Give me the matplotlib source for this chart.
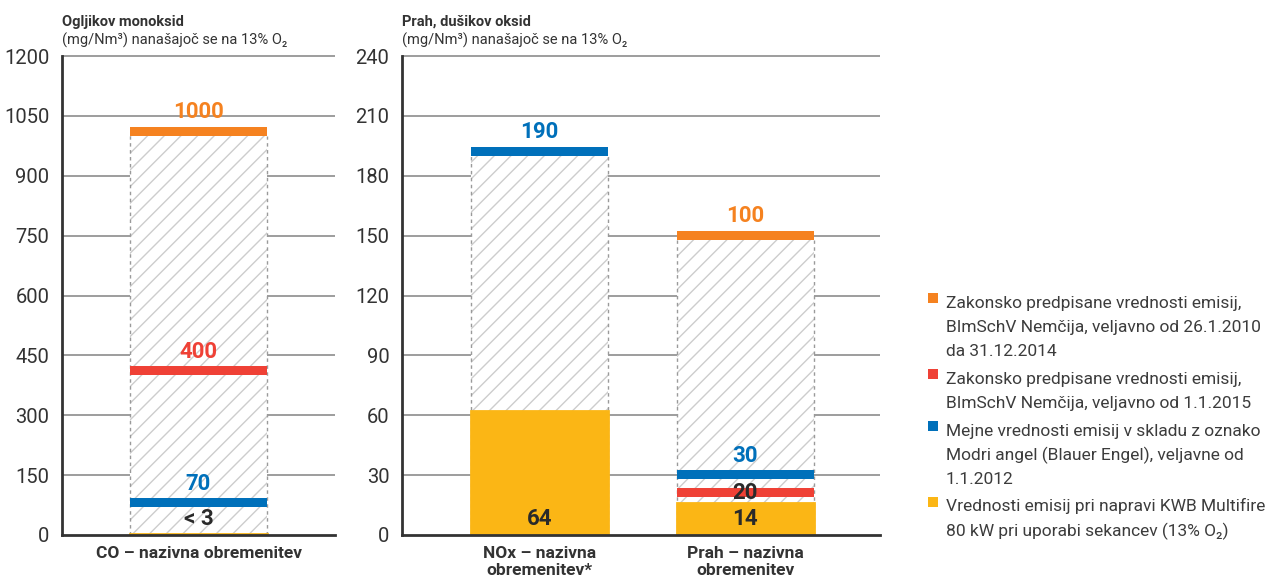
import numpy as np
import matplotlib.pyplot as plt
from matplotlib.patches import Rectangle

plt.rcParams['font.family'] = ['Roboto', 'DejaVu Sans']

ORANGE = "#F58220"
RED = "#EF4136"
BLUE = "#0070BA"
YELLOW = "#FBB615"
DARK = "#333333"
GRID = "#8c8c8c"
HATCH = "#cdcdcd"

W, H = 1285, 578

# --- podatki: ogljikov monoksid ---
co_categories = ["CO – nazivna obremenitev"]
co_orange = [1000]
co_red = [400]
co_blue = [70]
co_yellow = [3]
co_orange_lbl = ["1000"]
co_red_lbl = ["400"]
co_blue_lbl = ["70"]
co_yellow_lbl = ["< 3"]
co_ticks = [0, 150, 300, 450, 600, 750, 900, 1050, 1200]

# --- podatki: prah, dušikov oksid ---
pn_categories = ["NOx – nazivna\nobremenitev*", "Prah – nazivna\nobremenitev"]
pn_orange = [None, 148]
pn_red = [None, 19]
pn_blue = [190, 28]
pn_yellow = [62, 16]
pn_orange_lbl = [None, "100"]
pn_red_lbl = [None, "20"]
pn_blue_lbl = ["190", "30"]
pn_yellow_lbl = ["64", "14"]
pn_ticks = [0, 30, 60, 90, 120, 150, 180, 210, 240]

legend_colors = [ORANGE, RED, BLUE, YELLOW]
legend_texts = [
    ["Zakonsko predpisane vrednosti emisij,", "BImSchV Nemčija, veljavno od 26.1.2010", "da 31.12.2014"],
    ["Zakonsko predpisane vrednosti emisij,", "BImSchV Nemčija, veljavno od 1.1.2015"],
    ["Mejne vrednosti emisij v skladu z oznako", "Modri angel (Blauer Engel), veljavne od", "1.1.2012"],
    ["Vrednosti emisij pri napravi KWB Multifire", "80 kW pri uporabi sekancev (13% O₂)"],
]

VAL_FS = 16


def draw_panel(ax, xpos, width, categories, orange, red, blue, yellow,
               orange_lbl, red_lbl, blue_lbl, yellow_lbl, ticks, band, xlim):
    ymax = ticks[-1]
    ax.set_xlim(*xlim)
    ax.set_ylim(0, ymax)
    # mreža
    for t in ticks[1:]:
        ax.hlines(t, xlim[0], xlim[1], color=GRID, lw=1.2, zorder=1, clip_on=False)

    label_space = ymax * 0.045
    for i, x in enumerate(xpos):
        limits = [(orange[i], orange_lbl[i], ORANGE),
                  (red[i], red_lbl[i], RED),
                  (blue[i], blue_lbl[i], BLUE)]
        limits = [l for l in limits if l[0] is not None]
        top = max(l[0] for l in limits)

        # šrafiran okvir do najvišje meje
        ax.bar(x, top, width, color="white", edgecolor=HATCH, hatch="//",
               linewidth=0, zorder=2)
        ax.vlines([x - width / 2, x + width / 2], 0, top, colors="#9a9a9a",
                  linestyles=(0, (2.5, 2.5)), lw=1, zorder=3)

        # vrednost naprave
        ax.bar(x, yellow[i], width, color=YELLOW, edgecolor=YELLOW,
               linewidth=2, zorder=4)
        ax.annotate(yellow_lbl[i], xy=(x, 0), xytext=(0, 3.5),
                    textcoords="offset points", ha="center", va="bottom",
                    fontsize=VAL_FS, fontweight="bold", color="#2a2a2a", zorder=7)

        # mejne vrednosti kot debele črte
        vals = sorted(l[0] for l in limits)
        for val, lbl, col in limits:
            ax.bar(x, band, width, bottom=val, color=col, linewidth=0, zorder=5)
            above = [v for v in vals if v > val]
            if above and above[0] - (val + band) < label_space:
                ax.text(x, val + band / 2, lbl, ha="center", va="center",
                        fontsize=VAL_FS, fontweight="bold", color="#2a2a2a", zorder=7)
            else:
                ax.annotate(lbl, xy=(x, val + band), xytext=(0, 2.5),
                            textcoords="offset points", ha="center", va="bottom",
                            fontsize=VAL_FS, fontweight="bold", color=col, zorder=7)

        for j, line in enumerate(categories[i].split("\n")):
            ax.annotate(line, xy=(x, 0), xytext=(0, -16.5 - j * 12.3),
                        textcoords="offset points", ha="center", va="baseline",
                        fontsize=12.5, fontweight="bold", color=DARK,
                        annotation_clip=False)

    ax.set_yticks(ticks)
    ax.set_yticklabels([str(t) for t in ticks])
    ax.set_xticks([])
    ax.tick_params(axis="y", length=0, pad=9, labelsize=14.5, labelcolor=DARK)
    for s in ["top", "right"]:
        ax.spines[s].set_visible(False)
    for s in ["left", "bottom"]:
        ax.spines[s].set_color(DARK)
        ax.spines[s].set_linewidth(2)
        ax.spines[s].set_zorder(6)


fig = plt.figure(figsize=(W / 100, H / 100), dpi=100)
fig.patch.set_facecolor("white")

ax1 = fig.add_axes([62 / W, 1 - 535 / H, 273 / W, 479 / H])
ax2 = fig.add_axes([402 / W, 1 - 535 / H, 478 / W, 479 / H])

draw_panel(ax1, [0], 1.0, co_categories, co_orange, co_red, co_blue, co_yellow,
           co_orange_lbl, co_red_lbl, co_blue_lbl, co_yellow_lbl, co_ticks,
           band=22.5, xlim=(-1, 1))
draw_panel(ax2, [0, 1.5], 1.0, pn_categories, pn_orange, pn_red, pn_blue, pn_yellow,
           pn_orange_lbl, pn_red_lbl, pn_blue_lbl, pn_yellow_lbl, pn_ticks,
           band=4.5, xlim=(-1.0, 2.48))

# naslovi
for px, title in [(62, "Ogljikov monoksid"), (402, "Prah, dušikov oksid")]:
    fig.text(px / W, 1 - 26 / H, title, fontsize=10.5, fontweight="bold",
             color=DARK, va="baseline")
    fig.text(px / W, 1 - 45 / H, "(mg/Nm³) nanašajoč se na 13% O₂", fontsize=10.5,
             color=DARK, va="baseline")

# legenda
baseline = 308
for col, lines in zip(legend_colors, legend_texts):
    fig.add_artist(Rectangle((928 / W, 1 - (baseline - 5) / H), 10 / W, 10 / H,
                             transform=fig.transFigure, color=col, lw=0))
    for k, line in enumerate(lines):
        fig.text(946 / W, 1 - (baseline + k * 24.2) / H, line, fontsize=12.5,
                 color="#3c3c3c", va="baseline")
    baseline += (len(lines) - 1) * 24.2 + 27.5

plt.savefig("out.png", dpi=100, facecolor="white")
